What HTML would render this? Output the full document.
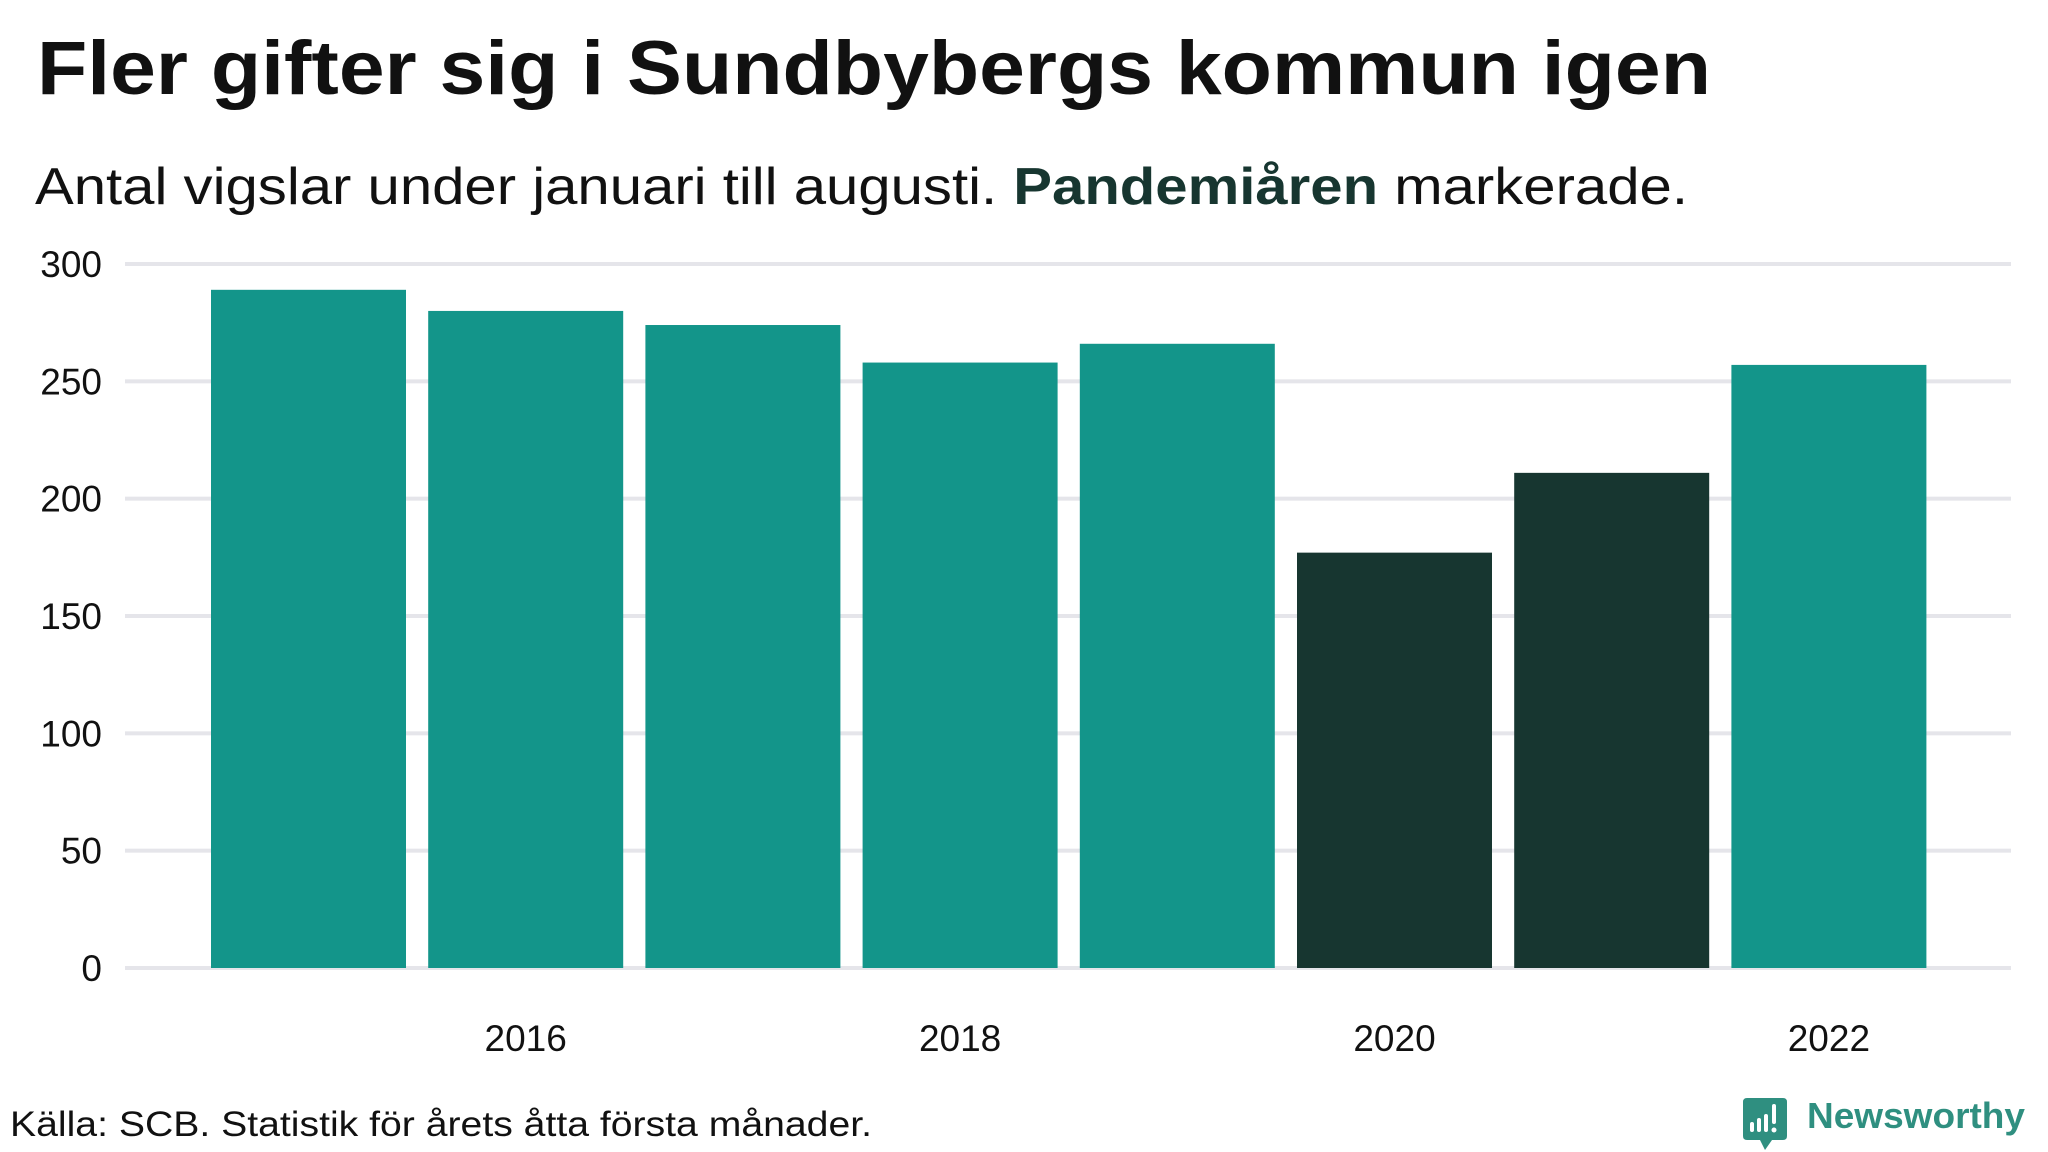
<!DOCTYPE html>
<html><head><meta charset="utf-8"><style>
html,body{margin:0;padding:0;background:#fff;}
svg{display:block;font-family:"Liberation Sans",sans-serif;}
</style></head><body>
<svg width="2048" height="1152" viewBox="0 0 2048 1152" xmlns="http://www.w3.org/2000/svg">
<text x="37" y="94" font-size="76" font-weight="bold" fill="#111" textLength="1674" lengthAdjust="spacingAndGlyphs">Fler gifter sig i Sundbybergs kommun igen</text>
<text x="35" y="204" font-size="52" fill="#111" textLength="1653" lengthAdjust="spacingAndGlyphs">Antal vigslar under januari till augusti. <tspan font-weight="bold" fill="#173630">Pandemiåren</tspan> markerade.</text>
<g id="grid"></g>
<g id="bars"></g>
<g id="ylabels"></g>
<g id="xlabels"></g>
<text x="10" y="1136" font-size="35" fill="#111" textLength="862" lengthAdjust="spacingAndGlyphs">Källa: SCB. Statistik för årets åtta första månader.</text>
<g>
<path d="M1747 1098 H1783 Q1787 1098 1787 1102 V1136 Q1787 1140 1783 1140 H1772 L1765 1150 L1760 1140 H1747 Q1743 1140 1743 1136 V1102 Q1743 1098 1747 1098 Z" fill="#2f8f80"/>
<rect x="1750" y="1122" width="4" height="10" rx="2" fill="#fff"/>
<rect x="1757" y="1118" width="4" height="14" rx="2" fill="#fff"/>
<rect x="1764" y="1114" width="4" height="18" rx="2" fill="#fff"/>
<rect x="1772" y="1104" width="4" height="20" rx="2" fill="#fff"/>
<circle cx="1774" cy="1130" r="2.5" fill="#fff"/>
<text x="1807" y="1128" font-size="36" font-weight="bold" fill="#2f8f80" textLength="218" lengthAdjust="spacingAndGlyphs">Newsworthy</text>
</g>
<script>
const years = [2015,2016,2017,2018,2019,2020,2021,2022];
const values = [289,280,274,258,266,177,211,257];
const pandemic = [false,false,false,false,false,true,true,false];
const yTicks = [0,50,100,150,200,250,300];
const xTickYears = [2016,2018,2020,2022];
const NS='http://www.w3.org/2000/svg';
const y0=968, yTop=264, yMax=300;
function yScale(v){return y0-(v/yMax)*(y0-yTop);}
const barLeft0=211, pitch=217.2, barW=195;
function xScale(i){return barLeft0+i*pitch;}
const grid=document.getElementById('grid');
const yl=document.getElementById('ylabels');
yTicks.forEach(t=>{
  const l=document.createElementNS(NS,'rect');
  l.setAttribute('x',125);l.setAttribute('y',yScale(t)-2);l.setAttribute('width',1886);l.setAttribute('height',4);l.setAttribute('fill','#e5e5ea');
  
  
  grid.appendChild(l);
  const tx=document.createElementNS(NS,'text');
  tx.setAttribute('x',102);tx.setAttribute('y',yScale(t)+13);tx.setAttribute('text-anchor','end');tx.setAttribute('font-size','37');tx.setAttribute('fill','#111');
  tx.textContent=t;
  
  
  yl.appendChild(tx);
});
const bars=document.getElementById('bars');
values.forEach((v,i)=>{
  const r=document.createElementNS(NS,'rect');
  r.setAttribute('x',xScale(i));r.setAttribute('y',yScale(v));r.setAttribute('width',barW);r.setAttribute('height',y0-yScale(v));
  r.setAttribute('fill',pandemic[i]?'#173630':'#13958a');
  
  
  bars.appendChild(r);
});
const xl=document.getElementById('xlabels');
xTickYears.forEach(yr=>{
  const i=years.indexOf(yr);
  const tx=document.createElementNS(NS,'text');
  tx.setAttribute('x',xScale(i)+barW/2);tx.setAttribute('y',1051);tx.setAttribute('text-anchor','middle');tx.setAttribute('font-size','37');tx.setAttribute('fill','#111');
  tx.textContent=yr;
  
  
  xl.appendChild(tx);
});
</script>
</svg>
</body></html>
